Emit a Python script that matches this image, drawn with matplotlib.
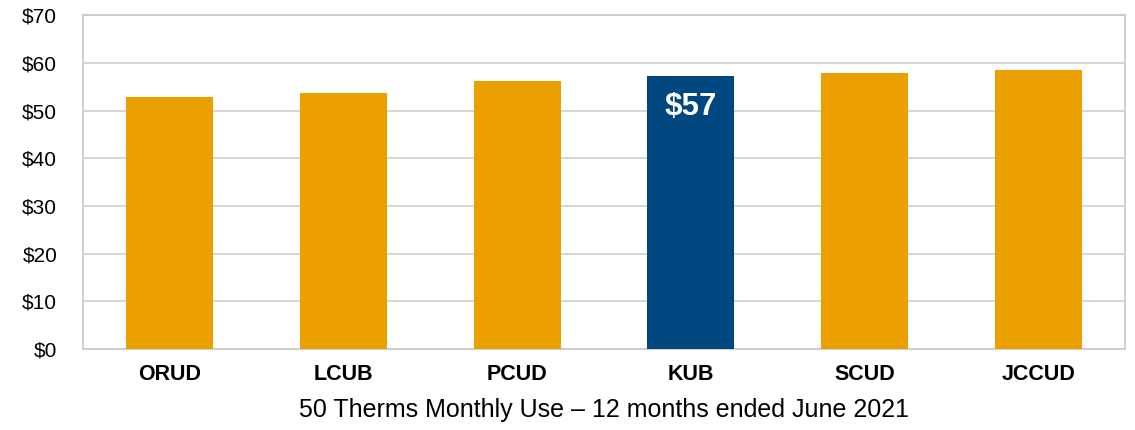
import matplotlib
matplotlib.use("Agg")
from matplotlib import pyplot as plt

plt.rcParams['font.family'] = ['Liberation Sans', 'DejaVu Sans']

utilities = ["ORUD", "LCUB", "PCUD", "KUB", "SCUD", "JCCUD"]
bills = [52.9, 53.7, 56.2, 57.3, 58.0, 58.6]
highlight = "KUB"
y_ticks = [0, 10, 20, 30, 40, 50, 60, 70]

orange = "#EBA000"
blue = "#00467F"
colors = [blue if u == highlight else orange for u in utilities]

fig = plt.figure(figsize=(11.35, 4.30), dpi=100)
ax = fig.add_axes([0.0731, 0.1884, 0.9181, 0.7756])

bars = ax.bar(utilities, bills, width=0.5, color=colors, zorder=3)
ax.set_xlim(-0.5, len(utilities) - 0.5)
ax.set_ylim(0, 70)
ax.set_yticks(y_ticks)
ax.set_yticklabels([f"${v}" for v in y_ticks])
ax.yaxis.grid(True, color="#d0d0d0", linewidth=1.2, zorder=0)
for s in ax.spines.values():
    s.set_color("#c8c8c8")
    s.set_linewidth(1.2)
ax.tick_params(axis="both", length=0)
ax.tick_params(axis="y", labelsize=15, pad=18.5)
ax.tick_params(axis="x", labelsize=15.5, pad=11)
for lbl in ax.get_xticklabels():
    lbl.set_fontweight("bold")

i = utilities.index(highlight)
ax.annotate(f"${bills[i]:.0f}", xy=(i, bills[i]), xytext=(0, -22.5),
            textcoords="offset points", ha="center", va="center",
            color="white", fontsize=22.5, fontweight="bold", zorder=4)

ax.set_xlabel("50 Therms Monthly Use \u2013 12 months ended June 2021",
              fontsize=18, labelpad=9)

fig.savefig("out.png", dpi=100)
